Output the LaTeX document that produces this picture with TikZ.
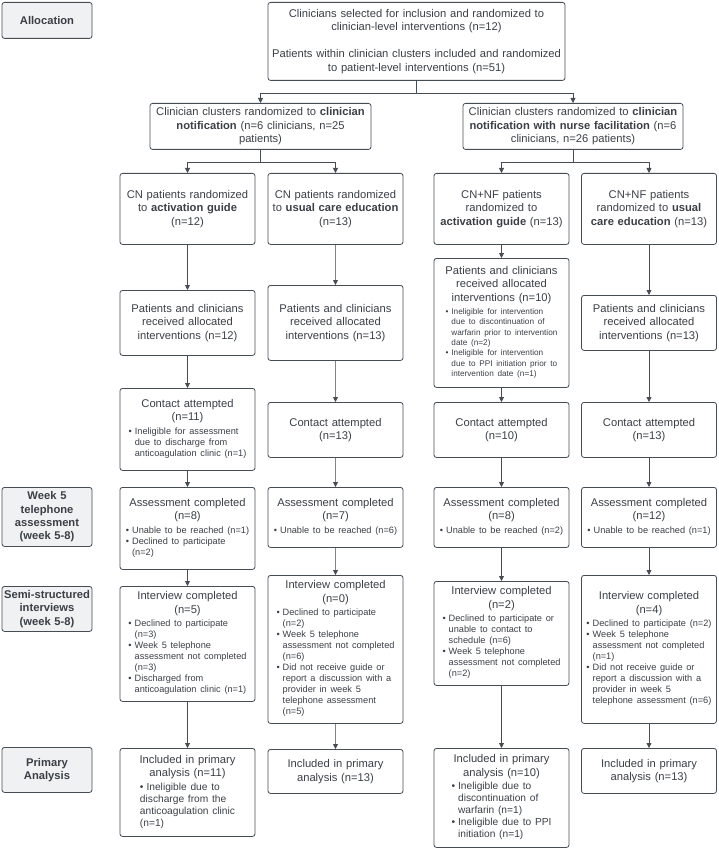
\documentclass[tikz,border=0pt]{standalone}
\usepackage{fontspec}
\setmainfont{Liberation Sans}
\usepackage{xcolor}
\usetikzlibrary{arrows.meta}
\definecolor{txtcol} {RGB}{58,63,70}
\definecolor{linecol}{RGB}{70,76,84}
\definecolor{softcol}{RGB}{128,133,139}
\definecolor{labcol} {RGB}{240,241,243}
\newcommand{\mainfnt}{\fontsize{11.2}{13.4}\selectfont}
\newcommand{\smallfnt}{\fontsize{9.2}{11}\selectfont}
\newcommand{\tinyfnt}{\fontsize{8.2}{10.3}\selectfont}
\newcommand{\midfnt}{\fontsize{10.2}{12}\selectfont}
% bullet block, centred under the box title
\newcommand{\blist}[2][\smallfnt]{\par{#1\begin{tabular}[t]{@{}l@{\hspace{3pt}}l@{}}#2\end{tabular}}\par}
\setlength{\parindent}{0pt}
\begin{document}
\begin{tikzpicture}[x=1pt,y=-1pt,
  pbox/.style={rectangle,rounded corners=2.5pt,draw=linecol,line width=0.8pt,
               text=txtcol,font=\mainfnt,align=center,anchor=north,
               minimum width=135pt,text width=133pt,inner xsep=1pt,inner ysep=1pt},
  lbox/.style={pbox,fill=labcol,font=\mainfnt\bfseries,
               minimum width=90pt,text width=88pt},
  arr/.style={-{Triangle[length=5pt,width=5pt,color=linecol]},line width=0.8pt,draw=linecol},
  arrsoft/.style={arr,draw=softcol},
  lin/.style={line width=0.8pt,draw=linecol}
]
\useasboundingbox (0,0) rectangle (719,850);
% stage labels
\node[lbox,minimum height=36pt] (lab1) at (47,2) {Allocation};
\node[lbox,minimum height=59pt] (lab2) at (47,487)
  {Week 5\\telephone\\assessment\\(week 5-8)};
\node[lbox,minimum height=45pt] (lab3) at (47,586)
  {Semi-structured\\interviews\\(week 5-8)};
\node[lbox,minimum height=45pt] (lab4) at (47,747) {Primary\\Analysis};
% allocation
\node[pbox,minimum width=297pt,text width=293pt,minimum height=78pt] (alloc) at (416.5,2)
  {Clinicians selected for inclusion and randomized to\\
   clinician-level interventions (n=12)\\[13.4pt]
   Patients within clinician clusters included and randomized\\
   to patient-level interventions (n=51)};
\node[pbox,minimum width=221pt,text width=217pt,minimum height=46pt] (cn) at (260.5,103)
  {Clinician clusters randomized to \textbf{clinician}\\
   \textbf{notification} (n=6 clinicians, n=25\\patients)};
\node[pbox,minimum width=220pt,text width=216pt,minimum height=46pt] (cnnf) at (573,103)
  {Clinician clusters randomized to \textbf{clinician}\\
   \textbf{notification with nurse facilitation} (n=6\\clinicians, n=26 patients)};
% randomized patients
\node[pbox,minimum height=71pt] (a1) at (187.5,173)
  {CN patients randomized\\to \textbf{activation guide}\\(n=12)};
\node[pbox,minimum height=71pt] (a2) at (335.5,173)
  {CN patients randomized\\to \textbf{usual care education}\\(n=13)};
\node[pbox,minimum height=71pt] (a3) at (501.5,173)
  {CN+NF patients\\randomized to\\\textbf{activation guide} (n=13)};
\node[pbox,minimum height=71pt] (a4) at (649,173)
  {CN+NF patients\\randomized to \textbf{usual}\\\textbf{care education} (n=13)};
% received interventions
\node[pbox,minimum height=65pt] (b1) at (187.5,290)
  {Patients and clinicians\\received allocated\\interventions (n=12)};
\node[pbox,minimum height=75pt] (b2) at (335.5,285)
  {Patients and clinicians\\received allocated\\interventions (n=13)};
\node[pbox,minimum height=129pt] (b3) at (501.5,258)
  {Patients and clinicians\\received allocated\\interventions (n=10)
   \blist[\tinyfnt]{\textbullet & Ineligible for intervention\\
     & due to discontinuation of\\ & warfarin prior to intervention\\ & date (n=2)\\
     \textbullet & Ineligible for intervention\\
     & due to PPI initiation prior to\\ & intervention date (n=1)}};
\node[pbox,minimum height=55pt] (b4) at (649,295)
  {Patients and clinicians\\received allocated\\interventions (n=13)};
% contact attempted
\node[pbox,minimum height=82pt] (c1) at (187.5,388)
  {Contact attempted\\(n=11)
   \blist{\textbullet & Ineligible for assessment\\ & due to discharge from\\
     & anticoagulation clinic (n=1)}};
\node[pbox,minimum height=55pt] (c2) at (335.5,402) {Contact attempted\\(n=13)};
\node[pbox,minimum height=55pt] (c3) at (501.5,402) {Contact attempted\\(n=10)};
\node[pbox,minimum height=55pt] (c4) at (649,402) {Contact attempted\\(n=13)};
% week 5 telephone assessment
\node[pbox,minimum height=82pt] (d1) at (187.5,487)
  {Assessment completed\\(n=8)
   \blist{\textbullet & Unable to be reached (n=1)\\
     \textbullet & Declined to participate\\ & (n=2)}};
\node[pbox,minimum height=60pt] (d2) at (335.5,487)
  {Assessment completed\\(n=7)\blist{\textbullet & Unable to be reached (n=6)}};
\node[pbox,minimum height=60pt] (d3) at (501.5,487)
  {Assessment completed\\(n=8)\blist{\textbullet & Unable to be reached (n=2)}};
\node[pbox,minimum height=60pt] (d4) at (649,487)
  {Assessment completed\\(n=12)\blist{\textbullet & Unable to be reached (n=1)}};
% semi-structured interviews
\node[pbox,minimum height=115pt] (e1) at (187.5,586)
  {Interview completed\\(n=5)
   \blist{\textbullet & Declined to participate\\ & (n=3)\\
     \textbullet & Week 5 telephone\\ & assessment not completed\\ & (n=3)\\
     \textbullet & Discharged from\\ & anticoagulation clinic (n=1)}};
\node[pbox,minimum height=148pt] (e2) at (335.5,575)
  {Interview completed\\(n=0)
   \blist{\textbullet & Declined to participate\\ & (n=2)\\
     \textbullet & Week 5 telephone\\ & assessment not completed\\ & (n=6)\\
     \textbullet & Did not receive guide or\\ & report a discussion with a\\
     & provider in week 5\\ & telephone assessment\\ & (n=5)}};
\node[pbox,minimum height=104pt] (e3) at (501.5,581)
  {Interview completed\\(n=2)
   \blist{\textbullet & Declined to participate or\\ & unable to contact to\\
     & schedule (n=6)\\
     \textbullet & Week 5 telephone\\ & assessment not completed\\ & (n=2)}};
\node[pbox,minimum height=148pt] (e4) at (649,575)
  {Interview completed\\(n=4)
   \blist{\textbullet & Declined to participate (n=2)\\
     \textbullet & Week 5 telephone\\ & assessment not completed\\ & (n=1)\\
     \textbullet & Did not receive guide or\\ & report a discussion with a\\
     & provider in week 5\\ & telephone assessment (n=6)}};
% primary analysis
\node[pbox,minimum height=88pt] (f1) at (187.5,748)
  {Included in primary\\analysis (n=11)
   \par{\midfnt\begin{tabular}[t]{@{}l@{}}\textbullet\hspace{3pt}Ineligible due to\\
     discharge from the\\anticoagulation clinic\\(n=1)\end{tabular}}\par};
\node[pbox,minimum height=44pt] (f2) at (335.5,749) {Included in primary\\analysis (n=13)};
\node[pbox,minimum height=99pt] (f3) at (501.5,748)
  {Included in primary\\analysis (n=10)
   \blist[\midfnt]{\textbullet & Ineligible due to\\ & discontinuation of\\
     & warfarin (n=1)\\ \textbullet & Ineligible due to PPI\\ & initiation (n=1)}};
\node[pbox,minimum height=45pt] (f4) at (649,748) {Included in primary\\analysis (n=13)};
% connectors
\coordinate (s0) at (416.5,93);
\coordinate (s1) at (260.5,162);
\coordinate (s2) at (573,162);
\draw[lin] (alloc) -- (s0);
\draw[arr] (s0) -| (cn);
\draw[arr] (s0) -| (cnnf);
\draw[lin] (cn) -- (s1);
\draw[arr] (s1) -| (a1);
\draw[arr] (s1) -| (a2);
\draw[lin] (cnnf) -- (s2);
\draw[arr] (s2) -| (a3);
\draw[arr] (s2) -| (a4);
\foreach \col/\sty in {1/arr,2/arrsoft,3/arr,4/arr}{
  \draw[\sty] (a\col) -- (b\col);
  \draw[\sty] (b\col) -- (c\col);
  \draw[\sty] (c\col) -- (d\col);
  \draw[\sty] (d\col) -- (e\col);
  \draw[\sty] (e\col) -- (f\col);
}
\end{tikzpicture}
\end{document}
